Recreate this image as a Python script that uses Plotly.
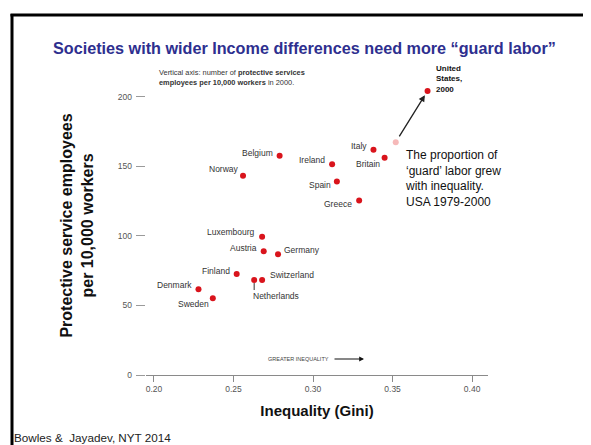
import plotly.graph_objects as go

# ---- data ----
countries = ["Denmark", "Sweden", "Finland", "Norway", "Netherlands", "Switzerland",
             "Luxembourg", "Austria", "Germany", "Belgium", "Ireland", "Spain",
             "Greece", "Italy", "Britain", "United States, 2000"]
gini = [0.228, 0.237, 0.252, 0.256, 0.263, 0.268, 0.268, 0.269, 0.278, 0.279,
        0.312, 0.315, 0.329, 0.338, 0.345, 0.372]
guard = [61.7, 55.2, 72.7, 143.2, 68.3, 68.3, 99.5, 89.0, 86.8, 157.6,
         151.6, 139.1, 125.4, 161.9, 156.3, 204.3]
us1979_gini = 0.352
us1979_guard = 167.4

x_ticks = [0.20, 0.25, 0.30, 0.35, 0.40]
x_ticklabels = ["0.20", "0.25", "0.30", "0.35", "0.40"]
y_ticks = [0, 50, 100, 150, 200]
y_ticklabels = ["0 ", "50 ", "100 ", "150 ", "200 "]

# ---- styling: label placements (pixel offsets from each dot) ----
label_style = {
    "Denmark": dict(xanchor="right", xshift=-4, yshift=4),
    "Sweden": dict(xanchor="right", xshift=-2, yshift=-6),
    "Finland": dict(xanchor="right", xshift=-5, yshift=3),
    "Norway": dict(xanchor="right", xshift=-2, yshift=7),
    "Netherlands": dict(xanchor="left", xshift=-3, yshift=-16),
    "Switzerland": dict(xanchor="left", xshift=6, yshift=5),
    "Luxembourg": dict(xanchor="right", xshift=-5, yshift=5),
    "Austria": dict(xanchor="right", xshift=-5, yshift=3),
    "Germany": dict(xanchor="left", xshift=4, yshift=4),
    "Belgium": dict(xanchor="right", xshift=-5, yshift=3),
    "Ireland": dict(xanchor="right", xshift=-5, yshift=4),
    "Spain": dict(xanchor="right", xshift=-4, yshift=-3),
    "Greece": dict(xanchor="right", xshift=-5, yshift=-3),
    "Italy": dict(xanchor="right", xshift=-4, yshift=4),
    "Britain": dict(xanchor="right", xshift=-3, yshift=-6),
}

W, H = 591, 445
L, R, T, B = 138, 480, 68, 367  # plot area in pixels


def px(x):
    return (x - L) / (R - L)


def py(y):
    return (B - y) / (B - T)


FONT = "Liberation Sans, Arial, sans-serif"

fig = go.Figure()
fig.add_trace(go.Scatter(x=[us1979_gini], y=[us1979_guard], mode="markers",
                         marker=dict(color="#f6b9b9", size=6), hoverinfo="skip"))
fig.add_trace(go.Scatter(x=gini, y=guard, mode="markers",
                         marker=dict(color="#d9141c", size=6), hoverinfo="skip"))

ann = []
for c, gx, gy in zip(countries, gini, guard):
    if c in label_style:
        s = label_style[c]
        ann.append(dict(x=gx, y=gy, xref="x", yref="y", text=c, showarrow=False,
                        xanchor=s["xanchor"], yanchor="middle",
                        xshift=s["xshift"], yshift=s["yshift"],
                        font=dict(family=FONT, size=8.5, color="#333333")))

ann.append(dict(x=gini[-1], y=guard[-1], xref="x", yref="y",
                text="<b>United<br>States,<br>2000</b>", showarrow=False,
                xanchor="left", yanchor="bottom", xshift=6, yshift=-5, align="left",
                font=dict(family=FONT, size=8, color="#111111")))

# US 1979 -> 2000 arrow
ann.append(dict(x=gini[-1], y=guard[-1], xref="x", yref="y",
                ax=us1979_gini, ay=us1979_guard, axref="x", ayref="y",
                text="", showarrow=True, arrowhead=2, arrowsize=1, arrowwidth=1.3,
                arrowcolor="#222222", standoff=5, startstandoff=5))

# annotation text block
ann.append(dict(x=px(395), y=py(138), xref="paper", yref="paper",
                text="The proportion of<br>‘guard’ labor grew<br>with inequality.<br>USA 1979-2000",
                showarrow=False, xanchor="left", yanchor="top", align="left",
                font=dict(family=FONT, size=12, color="#111111")))

# title
ann.append(dict(x=px(296), y=py(40), xref="paper", yref="paper",
                text="<b>Societies with wider Income differences need more “guard labor”</b>",
                showarrow=False, xanchor="center", yanchor="middle",
                font=dict(family=FONT, size=16.2, color="#2e2f8f")))

# subtitle
ann.append(dict(x=px(149), y=py(58), xref="paper", yref="paper",
                text="Vertical axis: number of <b>protective services</b><br><b>employees per 10,000 workers</b> in 2000.",
                showarrow=False, xanchor="left", yanchor="top", align="left",
                font=dict(family=FONT, size=7.4, color="#333333")))

# greater inequality
ann.append(dict(x=px(323), y=py(351), xref="paper", yref="paper",
                text="GREATER INEQUALITY", showarrow=False, xanchor="right", yanchor="middle",
                font=dict(family=FONT, size=5.5, color="#444444")))
ann.append(dict(x=px(356), y=py(351), xref="paper", yref="paper", text="",
                showarrow=True, ax=-31, ay=0, arrowhead=2, arrowsize=0.8, arrowwidth=1.2,
                arrowcolor="#111111"))

# footer
ann.append(dict(x=px(4), y=py(429), xref="paper", yref="paper",
                text="Bowles &amp;  Jayadev, NYT 2014", showarrow=False,
                xanchor="left", yanchor="middle",
                font=dict(family=FONT, size=11.7, color="#222222")))

shapes = [
    # slide frame
    dict(type="line", xref="paper", yref="paper", x0=px(4), x1=px(4), y0=py(6), y1=py(450),
         line=dict(color="black", width=3)),
    dict(type="line", xref="paper", yref="paper", x0=px(2.5), x1=px(600), y0=py(7), y1=py(7),
         line=dict(color="black", width=3)),
    # Netherlands leader line
    dict(type="line", xref="x", yref="y", xsizemode="pixel", ysizemode="pixel",
         xanchor=gini[4], yanchor=guard[4], x0=0, x1=0, y0=-3, y1=-10,
         line=dict(color="#333333", width=1)),
]

fig.update_layout(
    width=W, height=H,
    margin=dict(l=L, r=W - R, t=T, b=H - B, pad=0),
    paper_bgcolor="white", plot_bgcolor="white",
    showlegend=False,
    annotations=ann, shapes=shapes,
    font=dict(family=FONT),
    xaxis=dict(range=[0.195, 0.41], tickvals=x_ticks, ticktext=x_ticklabels,
               showgrid=False, zeroline=False, showline=True, linecolor="#8a8a8a", linewidth=1,
               ticks="outside", ticklen=6, tickcolor="#8a8a8a",
               tickfont=dict(family=FONT, size=8.5, color="#555555"),
               title=dict(text="<b>Inequality (Gini)</b>", standoff=12,
                          font=dict(family=FONT, size=15, color="#111111"))),
    yaxis=dict(range=[0, 215], tickvals=y_ticks, ticktext=y_ticklabels,
               showgrid=False, zeroline=False, showline=False,
               ticks="outside", ticklen=9, tickcolor="#9a9a9a",
               tickfont=dict(family=FONT, size=8.5, color="#555555"),
               title=dict(text="<b>Protective service employees<br>per 10,000 workers</b>",
                          standoff=20,
                          font=dict(family=FONT, size=16, color="#111111"))),
)

fig.write_html("out.html")
